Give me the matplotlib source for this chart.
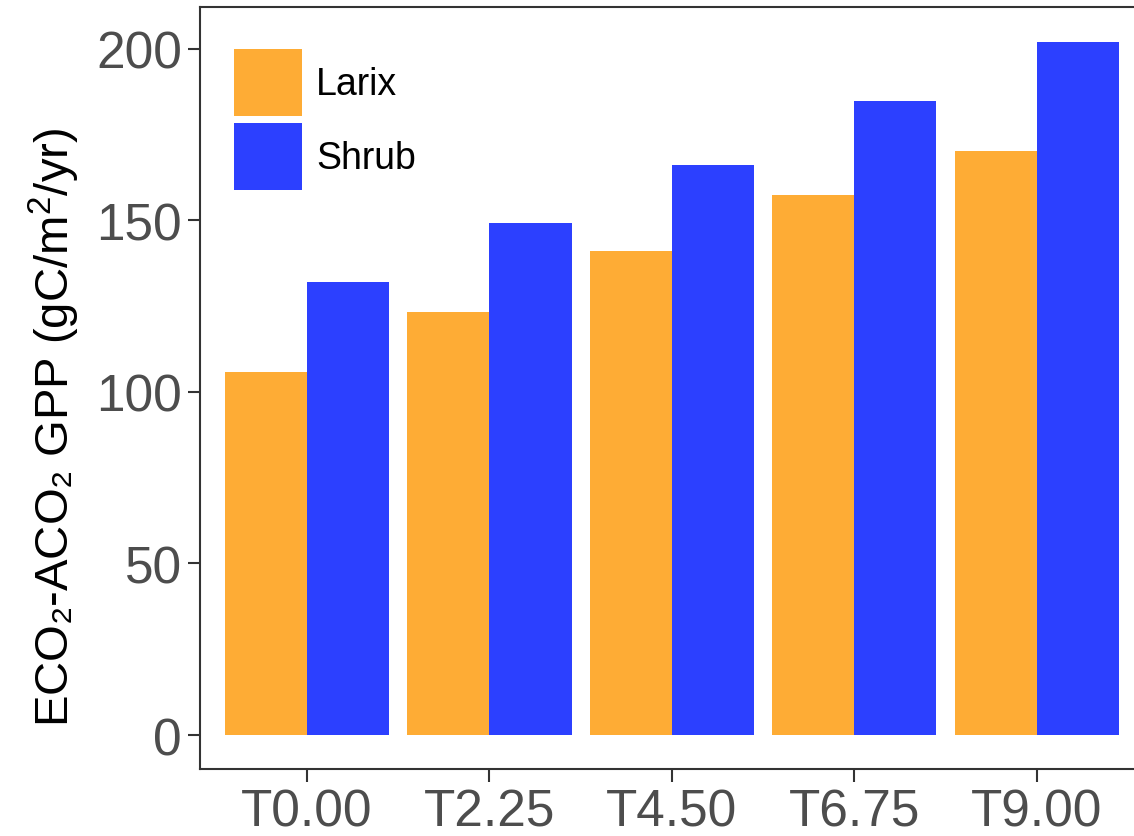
import numpy as np
import matplotlib
matplotlib.use('Agg')
from matplotlib import pyplot as plt

groups = ['T0.00', 'T2.25', 'T4.50', 'T6.75', 'T9.00']
larix = [105.8, 123.3, 141.1, 157.4, 170.3]
shrub = [132.1, 149.3, 166.2, 184.8, 202.0]
yticks = [0, 50, 100, 150, 200]

plt.rcParams['font.family'] = ['Liberation Sans', 'DejaVu Sans']
plt.rcParams['mathtext.fontset'] = 'custom'
plt.rcParams['mathtext.rm'] = 'Liberation Sans'

fig = plt.figure(figsize=(11.34, 8.37), dpi=100)
ax = fig.add_axes([200 / 1134, 67 / 837, (1146 - 200) / 1134, (770 - 8) / 837])

x = np.arange(len(groups))
w = 0.45
ax.bar(x - w / 2, larix, width=w, color='#FEAC35', label='Larix')
ax.bar(x + w / 2, shrub, width=w, color='#2C40FF', label='Shrub')

ax.set_xlim(-0.587, 4.6)
ax.set_ylim(-9.9, 212.2)
ax.set_xticks(x)
ax.set_xticklabels(groups)
ax.set_yticks(yticks)
ax.tick_params(axis='both', labelsize=37, labelcolor='#4D4D4D', color='#333333',
               length=9, width=1.5, pad=4)

for s in ax.spines.values():
    s.set_color('#333333')
    s.set_linewidth(1.5)

ax.set_ylabel('ECO₂-ACO₂ GPP (gC/m$^2$/yr)', fontsize=34, color='black', labelpad=10)
ax.yaxis.label.set_y(0.45)

ax.legend(loc='upper left', bbox_to_anchor=(234 / 1134, 1 - 50 / 837),
          bbox_transform=fig.transFigure, frameon=False, fontsize=27,
          handlelength=1.81, handleheight=2.37, labelspacing=0.19,
          handletextpad=0.38, borderpad=0, borderaxespad=0)

plt.savefig('out.png')
